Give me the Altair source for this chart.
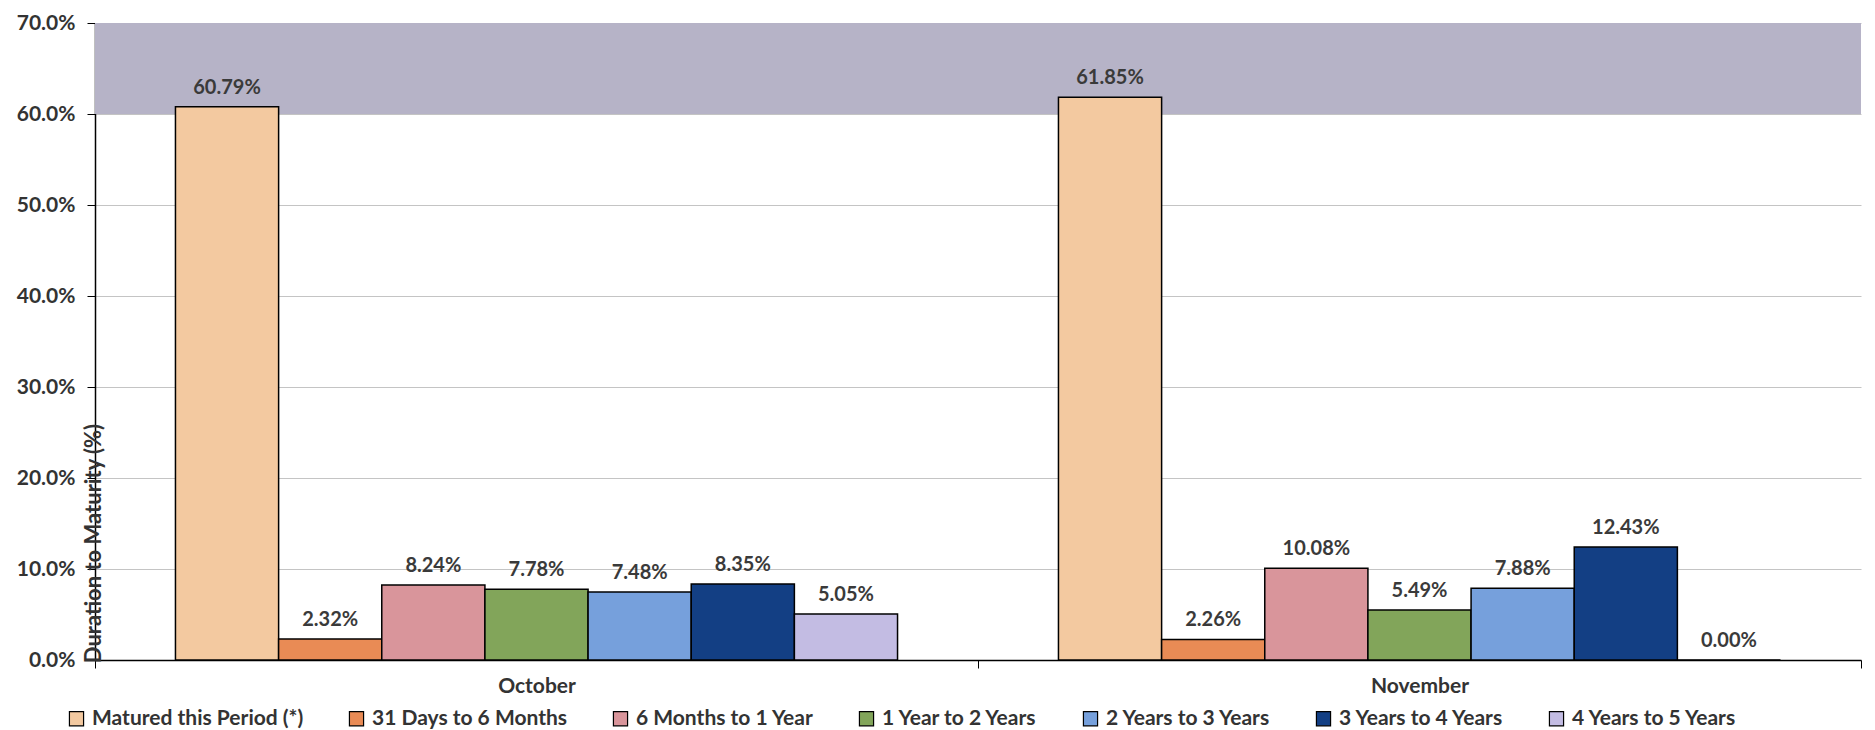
import altair as alt
import pandas as pd

months = ["October", "November"]
series = ["Matured this Period (*)", "31 Days to 6 Months", "6 Months to 1 Year",
          "1 Year to 2 Years", "2 Years to 3 Years", "3 Years to 4 Years", "4 Years to 5 Years"]
october = [60.79, 2.32, 8.24, 7.78, 7.48, 8.35, 5.05]
november = [61.85, 2.26, 10.08, 5.49, 7.88, 12.43, 0.00]
colors = ["#F3C9A0", "#E98B55", "#D9959B", "#82A55A", "#76A0DC", "#133F84", "#C3BCE3"]
band_low, band_high = [60.0], [70.0]

rows = []
for m, vals in zip(months, [october, november]):
    for s, v in zip(series, vals):
        rows.append({"Month": m, "Series": s, "Value": v, "Label": f"{v:.2f}%"})
df = pd.DataFrame(rows)
band_df = pd.DataFrame({"lo": band_low, "hi": band_high})

FONT = "Lato"
W, H = 1766, 637

yscale = alt.Scale(domain=[0, 70])
xscale = alt.Scale(paddingInner=0, paddingOuter=0)
offscale = alt.Scale(paddingInner=0, paddingOuter=0.78)

band = alt.Chart(band_df).mark_rect(color="#B6B3C7").encode(
    y=alt.Y("lo:Q", scale=yscale),
    y2="hi:Q",
)

xenc = alt.X("Month:N", sort=months, scale=xscale,
             axis=alt.Axis(title=None, labelAngle=0, tickBand="extent", labelPadding=7,
                           labelFont=FONT, labelFontSize=21, labelFontWeight="bold",
                           labelColor="#333333", domainColor="#000000", tickColor="#000000",
                           tickSize=8, domainWidth=1.5))
yenc = alt.Y("Value:Q", scale=yscale,
             axis=alt.Axis(title="Duration to Maturity (%)", values=[0, 10, 20, 30, 40, 50, 60, 70],
                           labelExpr="format(datum.value, '.1f') + '%'",
                           labelFont=FONT, labelFontSize=21, labelFontWeight="bold",
                           labelColor="#333333", labelPadding=12, tickSize=8,
                           tickColor="#000000", domainColor="#000000", domainWidth=1.5,
                           gridColor="#C4C4C4", gridWidth=1,
                           titleFont=FONT, titleFontSize=22, titleFontWeight="bold",
                           titleColor="#333333", titleX=10, titleY=520, titleAngle=-90,
                           titleBaseline="bottom", titleAlign="center"))

bars = alt.Chart(df).mark_bar(stroke="#000000", strokeWidth=1.5).encode(
    x=xenc,
    xOffset=alt.XOffset("Series:N", sort=series, scale=offscale),
    y=yenc,
    color=alt.Color("Series:N", sort=series,
                    scale=alt.Scale(domain=series, range=colors),
                    legend=alt.Legend(title=None, orient="none", legendX=-29, legendY=H + 48,
                                      direction="horizontal",
                                      columns=7, symbolType="square", symbolSize=200,
                                      symbolStrokeColor="#000000", symbolStrokeWidth=1.2,
                                      labelFont=FONT, labelFontSize=21, labelFontWeight="bold",
                                      labelColor="#333333", columnPadding=42, labelOffset=5,
                                      labelLimit=400)),
)

labels = alt.Chart(df).mark_text(baseline="bottom", dy=-9, font=FONT, fontSize=20,
                                 fontWeight="bold", color="#3A3A3A").encode(
    x=alt.X("Month:N", sort=months, scale=xscale),
    xOffset=alt.XOffset("Series:N", sort=series, scale=offscale),
    y=alt.Y("Value:Q", scale=yscale),
    text="Label:N",
)

chart = alt.layer(band, bars, labels).properties(
    width=W, height=H, padding={"left": 8, "top": 4, "right": 0, "bottom": 0}
).configure_view(stroke=None).configure_axisX(grid=False)

chart.save("out.html", embed_options={"renderer": "svg", "actions": False})
